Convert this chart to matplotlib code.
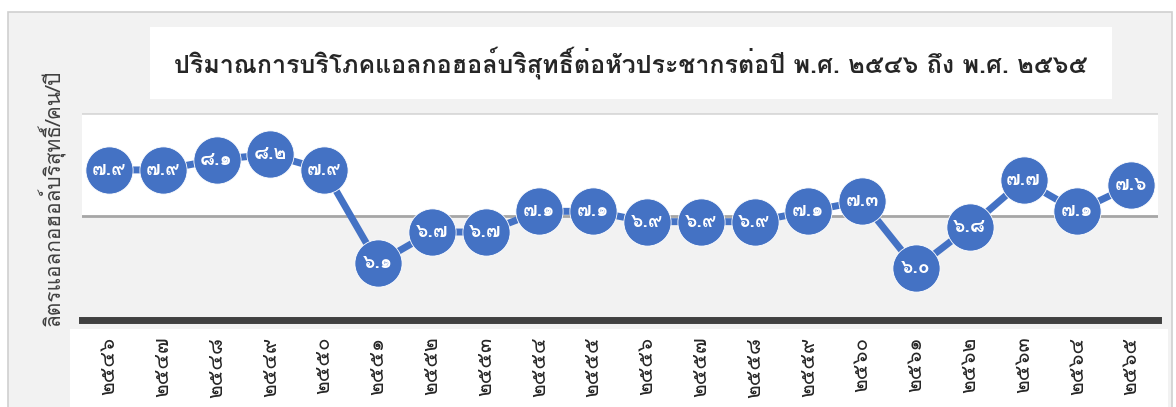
import matplotlib as mpl
mpl.use('Agg')
import matplotlib.pyplot as plt
from matplotlib import font_manager as fm
from matplotlib.ft2font import FT2Font
from matplotlib.patches import Rectangle

years = ['2546', '2547', '2548', '2549', '2550', '2551', '2552', '2553', '2554', '2555',
         '2556', '2557', '2558', '2559', '2560', '2561', '2562', '2563', '2564', '2565']
litres = [7.9, 7.9, 8.1, 8.2, 7.9, 6.1, 6.7, 6.7, 7.1, 7.1,
          6.9, 6.9, 6.9, 7.1, 7.3, 6.0, 6.8, 7.7, 7.1, 7.6]
title = 'ปริมาณการบริโภคแอลกอฮอล์บริสุทธิ์ต่อหัวประชากรต่อปี พ.ศ. ๒๕๔๖ ถึง พ.ศ. ๒๕๖๕'
ylabel = 'ลิตรแอลกอฮอล์บริสุทธิ์/คน/ปี'

thai_digits = str.maketrans('0123456789', '๐๑๒๓๔๕๖๗๘๙')

# find an installed font with Thai glyphs
found = []
for f in fm.fontManager.ttflist:
    try:
        if 0x0E1B in FT2Font(f.fname).get_charmap():
            found.append(f.name)
    except Exception:
        pass
thai_font = found[0] if found else 'DejaVu Sans'
plt.rcParams['font.family'] = [thai_font, 'DejaVu Sans']

blue = '#4472C4'
fig = plt.figure(figsize=(11.76, 4.07), dpi=100)
fig.patch.set_facecolor('white')
W, H = 1176, 407

def px_rect(x0, y0, x1, y1, **kw):
    fig.add_artist(Rectangle((x0 / W, 1 - y1 / H), (x1 - x0) / W, (y1 - y0) / H,
                             transform=fig.transFigure, zorder=-5, **kw))

px_rect(8, 12, 1172, 410, facecolor='#f2f2f2', edgecolor='#d0d0d0', lw=1.2)
px_rect(150, 27, 1112, 99, facecolor='white', edgecolor='none')
px_rect(70, 329, 1168, 410, facecolor='white', edgecolor='none')

fig.text(631 / W, 1 - 63 / H, title, ha='center', va='center', fontsize=18,
         fontweight='bold', color='#262626')

ax = fig.add_axes([82 / W, 1 - 320 / H, 1076 / W, 207 / H])
ax.set_facecolor('none')
ax.axhspan(7, 9, color='white', zorder=0)
ax.axhline(9, color='#d9d9d9', lw=2, zorder=1)
ax.axhline(7, color='#a6a6a6', lw=2, zorder=1)

x = range(len(years))
ax.plot(x, litres, color=blue, lw=5, marker='o', markersize=34,
        markeredgecolor='white', markeredgewidth=0.6, zorder=3, clip_on=False)
for i, v in enumerate(litres):
    ax.text(i, v, f'{v:.1f}'.translate(thai_digits), ha='center', va='center',
            color='white', fontsize=14, fontweight='bold', zorder=4)

ax.set_xlim(-0.5, len(years) - 0.5)
ax.set_ylim(5, 9)
ax.set_xticks(list(x))
ax.set_xticklabels([y.translate(thai_digits) for y in years], rotation=90,
                   fontsize=15, color='#262626')
ax.set_yticks([])
ax.tick_params(axis='x', length=0, pad=12)
for s in ['top', 'right', 'left']:
    ax.spines[s].set_visible(False)
ax.spines['bottom'].set_color('#404040')
ax.spines['bottom'].set_linewidth(5)

fig.text(52 / W, 1 - 198 / H, ylabel, rotation=90, ha='center', va='center',
         fontsize=15, color='#404040')

fig.savefig('out.png', dpi=100)
